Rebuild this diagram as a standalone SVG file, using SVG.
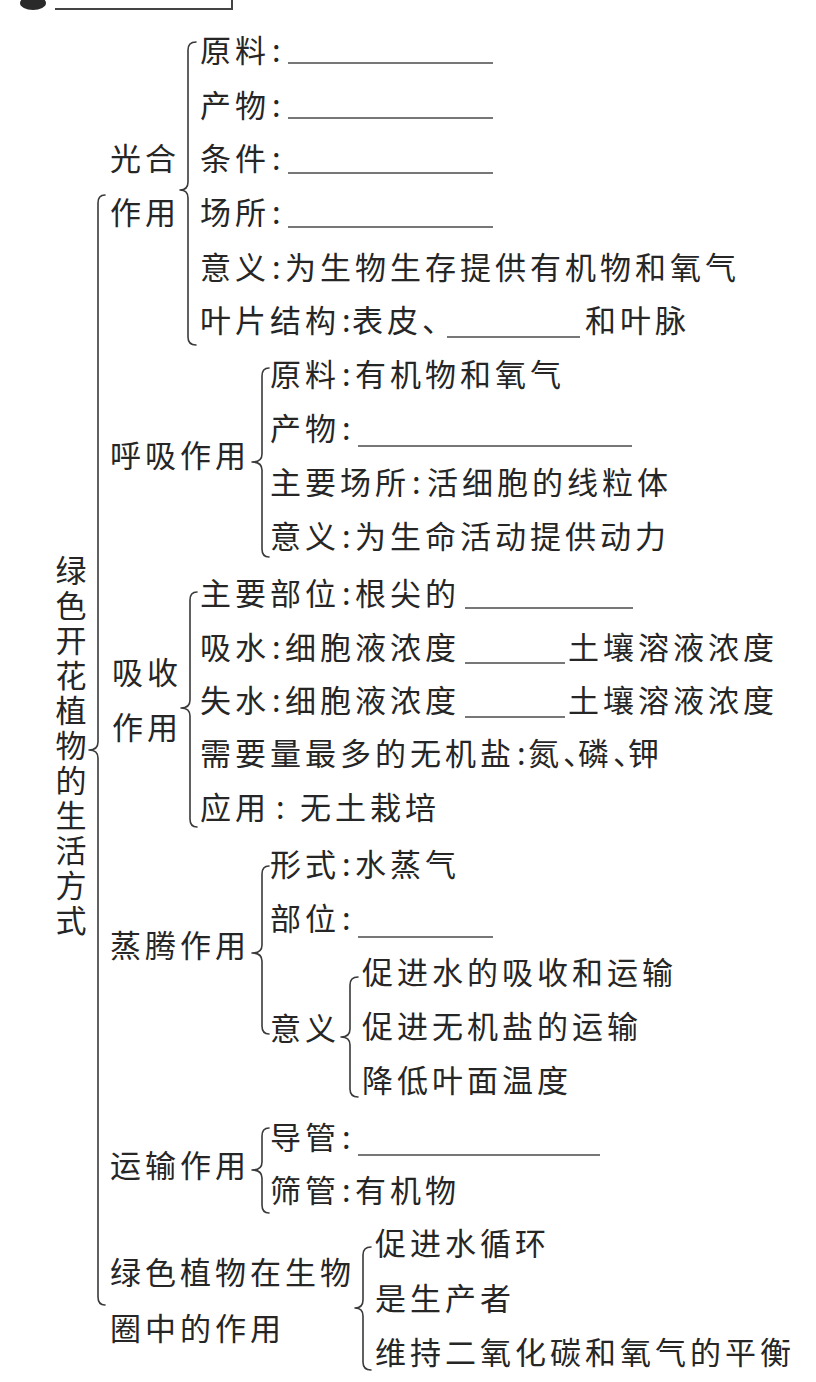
<svg xmlns="http://www.w3.org/2000/svg" width="816" height="1382" viewBox="0 0 816 1382">
<style>
text{font-family:"Noto Sans CJK SC","Noto Sans",sans-serif;font-size:31px;letter-spacing:4px;fill:#262626}
.vt{writing-mode:vertical-rl}
.br{fill:none;stroke:#3a3a3a;stroke-width:1.6;stroke-linecap:round;stroke-linejoin:round}
.bl{stroke:#4a4a4a;stroke-width:1.5}
</style>
<rect width="816" height="1382" fill="#ffffff"/>
<g id="title-fragment">
<ellipse cx="33" cy="3" rx="13" ry="7" fill="#2a2a2a"/>
<path d="M55 9 L232 9 L232 0" fill="none" stroke="#444" stroke-width="2"/>
</g>
<g id="connectors">
<path class="br" d="M105 195 Q98 195 98 203 L98 742 Q98 750 89 750 Q98 750 98 758 L98 1297 Q98 1305 105 1305"/>
<path class="br" d="M196 42 Q188 42 188 50 L188 182 Q188 190 180 190 Q188 190 188 198 L188 337 Q188 345 196 345"/>
<path class="br" d="M269 368 Q262 368 262 376 L262 454 Q262 462 252 462 Q262 462 262 470 L262 549 Q262 557 269 557"/>
<path class="br" d="M197 592 Q190 592 190 600 L190 700 Q190 708 181 708 Q190 708 190 716 L190 819 Q190 827 197 827"/>
<path class="br" d="M269 866 Q262 866 262 874 L262 945 Q262 953 252 953 Q262 953 262 961 L262 1026 Q262 1034 269 1034"/>
<path class="br" d="M358 977 Q350 977 350 985 L350 1029 Q350 1037 341 1037 Q350 1037 350 1045 L350 1089 Q350 1097 358 1097"/>
<path class="br" d="M269 1128 Q262 1128 262 1136 L262 1162 Q262 1170 252 1170 Q262 1170 262 1178 L262 1205 Q262 1213 269 1213"/>
<path class="br" d="M371 1247 Q363 1247 363 1255 L363 1300 Q363 1308 355 1308 Q363 1308 363 1316 L363 1362 Q363 1370 371 1370"/>
</g>
<g id="root">
<text class="vt" x="71" y="555">绿色开花植物的生活方式</text>
</g>
<g id="photosynthesis">
<text x="110" y="170">光合</text>
<text x="110" y="224">作用</text>
<text y="62"><tspan x="200">原料</tspan><tspan x="272">:</tspan></text>
<line class="bl" x1="288" y1="63" x2="493" y2="63"/>
<text y="117"><tspan x="200">产物</tspan><tspan x="272">:</tspan></text>
<line class="bl" x1="288" y1="118" x2="493" y2="118"/>
<text y="170"><tspan x="200">条件</tspan><tspan x="272">:</tspan></text>
<line class="bl" x1="288" y1="173" x2="493" y2="173"/>
<text y="224"><tspan x="200">场所</tspan><tspan x="272">:</tspan></text>
<line class="bl" x1="288" y1="227" x2="493" y2="227"/>
<text y="279"><tspan x="200">意义</tspan><tspan x="272">:</tspan><tspan x="285">为生物生存提供有机物和氧气</tspan></text>
<text y="332"><tspan x="200">叶片结构</tspan><tspan x="342">:</tspan><tspan x="352">表皮、</tspan><tspan x="585">和叶脉</tspan></text>
<line class="bl" x1="447" y1="337" x2="580" y2="337"/>
</g>
<g id="respiration">
<text x="110" y="467">呼吸作用</text>
<text y="386"><tspan x="270">原料</tspan><tspan x="342">:</tspan><tspan x="355">有机物和氧气</tspan></text>
<text y="440"><tspan x="270">产物</tspan><tspan x="342">:</tspan></text>
<line class="bl" x1="358" y1="446" x2="632" y2="446"/>
<text y="494"><tspan x="270">主要场所</tspan><tspan x="412">:</tspan><tspan x="427">活细胞的线粒体</tspan></text>
<text y="548"><tspan x="270">意义</tspan><tspan x="342">:</tspan><tspan x="355">为生命活动提供动力</tspan></text>
</g>
<g id="absorption">
<text x="112" y="684">吸收</text>
<text x="112" y="739">作用</text>
<text y="605"><tspan x="200">主要部位</tspan><tspan x="342">:</tspan><tspan x="355">根尖的</tspan></text>
<line class="bl" x1="465" y1="608" x2="633" y2="608"/>
<text y="659"><tspan x="200">吸水</tspan><tspan x="272">:</tspan><tspan x="285">细胞液浓度</tspan><tspan x="568">土壤溶液浓度</tspan></text>
<line class="bl" x1="465" y1="663" x2="565" y2="663"/>
<text y="712"><tspan x="200">失水</tspan><tspan x="272">:</tspan><tspan x="285">细胞液浓度</tspan><tspan x="568">土壤溶液浓度</tspan></text>
<line class="bl" x1="465" y1="717" x2="565" y2="717"/>
<text y="765"><tspan x="200">需要量最多的无机盐</tspan><tspan x="517">:</tspan><tspan x="528">氮<tspan letter-spacing="-16px">、</tspan>磷<tspan letter-spacing="-16px">、</tspan>钾</tspan></text>
<text y="819"><tspan x="200">应用</tspan><tspan x="276">:</tspan><tspan x="300">无土栽培</tspan></text>
</g>
<g id="transpiration">
<text x="110" y="957">蒸腾作用</text>
<text y="876"><tspan x="270">形式</tspan><tspan x="342">:</tspan><tspan x="355">水蒸气</tspan></text>
<text y="930"><tspan x="270">部位</tspan><tspan x="342">:</tspan></text>
<line class="bl" x1="358" y1="937" x2="493" y2="937"/>
<text x="270" y="1040">意义</text>
<text x="362" y="984">促进水的吸收和运输</text>
<text x="362" y="1038">促进无机盐的运输</text>
<text x="362" y="1092">降低叶面温度</text>
</g>
<g id="transport">
<text x="110" y="1177">运输作用</text>
<text y="1149"><tspan x="270">导管</tspan><tspan x="342">:</tspan></text>
<line class="bl" x1="358" y1="1155" x2="600" y2="1155"/>
<text y="1202"><tspan x="270">筛管</tspan><tspan x="342">:</tspan><tspan x="355">有机物</tspan></text>
</g>
<g id="biosphere-role">
<text x="110" y="1284">绿色植物在生物</text>
<text x="110" y="1340">圈中的作用</text>
<text x="375" y="1255">促进水循环</text>
<text x="375" y="1310">是生产者</text>
<text x="375" y="1364">维持二氧化碳和氧气的平衡</text>
</g>
</svg>
